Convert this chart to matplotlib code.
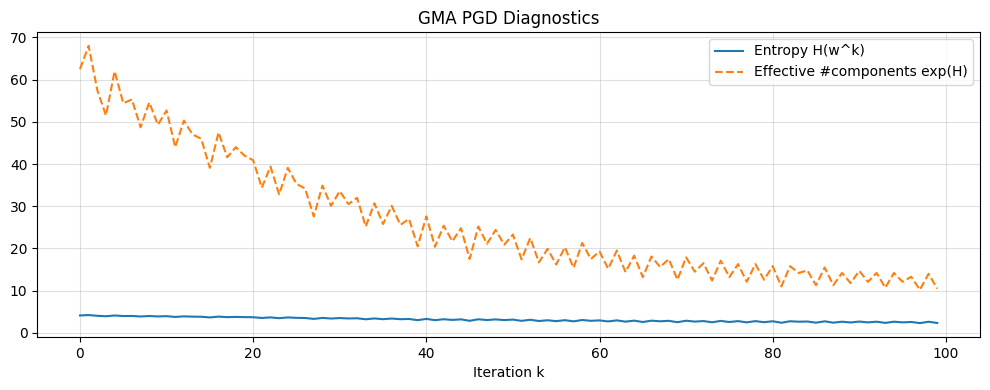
import numpy as np
import matplotlib.pyplot as plt

# Effective number of components exp(H)
eff_components = [62.5, 68.0, 57.5, 51.5, 62.0, 54.4, 55.3, 48.7, 54.6, 49.3,
                  52.7, 44.0, 50.3, 47.0, 46.0, 39.1, 47.5, 41.6, 44.0, 42.0,
                  40.9, 34.4, 39.4, 32.8, 39.1, 35.3, 34.2, 27.6, 34.9, 30.1,
                  33.6, 30.5, 32.0, 25.2, 30.7, 25.8, 30.1, 25.6, 27.0, 20.5,
                  27.6, 20.4, 25.4, 21.7, 24.8, 17.5, 25.2, 21.1, 24.4, 20.9,
                  23.3, 17.4, 22.5, 16.7, 19.9, 16.2, 20.3, 15.4, 21.3, 17.5,
                  19.3, 15.2, 19.5, 14.4, 18.3, 13.2, 18.1, 15.6, 17.5, 12.6,
                  17.9, 14.5, 16.5, 12.4, 17.1, 13.2, 16.3, 12.1, 16.3, 12.6,
                  15.8, 11.0, 15.8, 14.2, 14.8, 11.3, 15.5, 11.3, 14.2, 11.8,
                  14.7, 12.1, 14.2, 10.7, 14.2, 12.1, 13.3, 10.2, 14.0, 10.5]

# Entropy H(w^k)
entropy = [4.135, 4.220, 4.052, 3.942, 4.127, 3.996, 4.013, 3.886, 4.000, 3.898,
           3.965, 3.784, 3.918, 3.850, 3.829, 3.666, 3.861, 3.728, 3.784, 3.738,
           3.711, 3.538, 3.674, 3.490, 3.666, 3.564, 3.532, 3.318, 3.552, 3.405,
           3.515, 3.418, 3.466, 3.227, 3.424, 3.250, 3.405, 3.243, 3.296, 3.020,
           3.318, 3.016, 3.235, 3.077, 3.211, 2.862, 3.227, 3.049, 3.195, 3.040,
           3.148, 2.856, 3.114, 2.815, 2.991, 2.785, 3.011, 2.734, 3.059, 2.862,
           2.960, 2.721, 2.970, 2.667, 2.907, 2.580, 2.896, 2.747, 2.862, 2.534,
           2.885, 2.674, 2.803, 2.518, 2.839, 2.580, 2.791, 2.493, 2.791, 2.534,
           2.760, 2.398, 2.760, 2.653, 2.695, 2.425, 2.741, 2.425, 2.653, 2.468,
           2.688, 2.493, 2.653, 2.370, 2.653, 2.493, 2.588, 2.322, 2.639, 2.351]

iterations = np.arange(len(entropy))

fig, ax = plt.subplots(figsize=(9.9, 3.9), dpi=100)
ax.plot(iterations, entropy, label='Entropy H(w^k)')
ax.plot(iterations, eff_components, '--', label='Effective #components exp(H)')

ax.set_xlabel('Iteration k')
ax.set_title('GMA PGD Diagnostics')
ax.grid(True, alpha=0.4)
ax.legend(loc='upper right')

fig.subplots_adjust(left=0.0375, right=0.99, top=0.918, bottom=0.136)
fig.savefig('out.png')
